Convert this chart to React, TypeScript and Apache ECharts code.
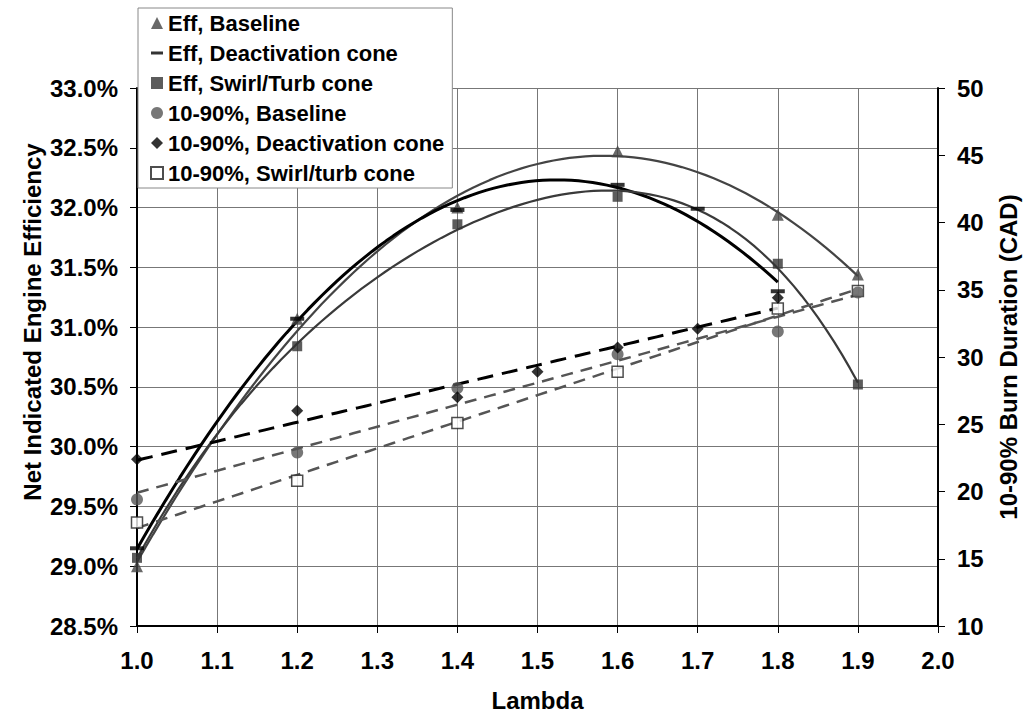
import React, { useEffect, useRef } from "react";
import * as echarts from "echarts";

// ---- data ----
const lambdaEffBaseline = [1.0, 1.2, 1.4, 1.6, 1.8, 1.9];
const effBaseline = [29.0, 31.07, 32.0, 32.47, 31.94, 31.44];

const lambdaEffDeact = [1.0, 1.2, 1.4, 1.6, 1.7, 1.8];
const effDeact = [29.15, 31.07, 31.98, 32.19, 31.99, 31.3];

const lambdaEffSwirl = [1.0, 1.2, 1.4, 1.6, 1.8, 1.9];
const effSwirl = [29.07, 30.84, 31.86, 32.09, 31.53, 30.52];

const lambdaBurnBaseline = [1.0, 1.2, 1.4, 1.6, 1.8, 1.9];
const burnBaseline = [19.4, 22.9, 27.7, 30.2, 31.9, 34.8];

const lambdaBurnDeact = [1.0, 1.2, 1.4, 1.5, 1.6, 1.7, 1.8];
const burnDeact = [22.4, 26.0, 27.0, 28.9, 30.7, 32.1, 34.4];

const lambdaBurnSwirl = [1.0, 1.2, 1.4, 1.6, 1.8, 1.9];
const burnSwirl = [17.7, 20.8, 25.1, 28.9, 33.6, 34.9];

const seriesNames = [
  "Eff, Baseline",
  "Eff, Deactivation cone",
  "Eff, Swirl/Turb cone",
  "10-90%, Baseline",
  "10-90%, Deactivation cone",
  "10-90%, Swirl/turb cone",
];

// polynomial order of each spreadsheet trendline
const trendOrders = [2, 2, 4, 1, 1, 1];

const xTicks = { min: 1.0, max: 2.0, step: 0.1 };
const yLeftTicks = { min: 28.5, max: 33.0, step: 0.5 };
const yRightTicks = { min: 10, max: 50, step: 5 };

// ---- least squares trendlines (as the spreadsheet trendlines) ----
function polyFit(xs: number[], ys: number[], deg: number): number[] {
  const n = deg + 1;
  const x0 = 1.45; // centre x for numerical stability
  const A: number[][] = [];
  for (let r = 0; r < n; r++) {
    A.push(new Array(n + 1).fill(0));
  }
  for (let i = 0; i < xs.length; i++) {
    const t = xs[i] - x0;
    for (let r = 0; r < n; r++) {
      for (let c = 0; c < n; c++) A[r][c] += Math.pow(t, r + c);
      A[r][n] += ys[i] * Math.pow(t, r);
    }
  }
  for (let p = 0; p < n; p++) {
    let best = p;
    for (let r = p + 1; r < n; r++) if (Math.abs(A[r][p]) > Math.abs(A[best][p])) best = r;
    [A[p], A[best]] = [A[best], A[p]];
    for (let r = 0; r < n; r++) {
      if (r === p) continue;
      const f = A[r][p] / A[p][p];
      for (let c = p; c <= n; c++) A[r][c] -= f * A[p][c];
    }
  }
  return A.map((row, i) => row[n] / row[i]);
}

function trend(xs: number[], ys: number[], deg: number): number[][] {
  const coef = polyFit(xs, ys, deg);
  const x0 = 1.45;
  const lo = Math.min(...xs);
  const hi = Math.max(...xs);
  const out: number[][] = [];
  const steps = 90;
  for (let i = 0; i <= steps; i++) {
    const x = lo + ((hi - lo) * i) / steps;
    let y = 0;
    for (let k = 0; k < coef.length; k++) y += coef[k] * Math.pow(x - x0, k);
    out.push([x, y]);
  }
  return out;
}

const pairs = (xs: number[], ys: number[]) => xs.map((x, i) => [x, ys[i]]);

const FONT = '"Liberation Sans", Arial, Helvetica, sans-serif';
const DASH_PATH = "path://M0,0H14V4H0Z";

export default function App() {
  const ref = useRef<HTMLDivElement>(null);

  useEffect(() => {
    if (!ref.current) return;
    const chart = echarts.init(ref.current, undefined, { renderer: "svg" });

    const trendBase = {
      type: "line",
      showSymbol: false,
      symbol: "none",
      silent: true,
      smooth: false,
      z: 2,
    };

    const option: any = {
      animation: false,
      backgroundColor: "#fff",
      textStyle: { fontFamily: FONT },
      grid: { left: 137, right: 85, top: 88, bottom: 90, containLabel: false },
      legend: {
        orient: "vertical",
        left: 138,
        top: 8,
        backgroundColor: "#fff",
        borderColor: "#888",
        borderWidth: 1,
        padding: [4, 8, 4, 12],
        itemGap: 8,
        itemWidth: 12,
        itemHeight: 12,
        selectedMode: false,
        textStyle: {
          fontFamily: FONT,
          fontWeight: "bold",
          fontSize: 22,
          lineHeight: 22,
          color: "#000",
        },
        data: [
          { name: seriesNames[0], icon: "triangle" },
          { name: seriesNames[1], icon: "path://M0,0H12V3H0Z" },
          { name: seriesNames[2], icon: "rect" },
          { name: seriesNames[3], icon: "circle" },
          { name: seriesNames[4], icon: "diamond" },
          { name: seriesNames[5], icon: "rect" },
        ],
      },
      xAxis: {
        type: "value",
        min: xTicks.min,
        max: xTicks.max,
        interval: xTicks.step,
        name: "Lambda",
        nameLocation: "middle",
        nameGap: 62,
        nameTextStyle: { fontFamily: FONT, fontWeight: "bold", fontSize: 24, color: "#000" },
        axisLine: { onZero: false, lineStyle: { color: "#000", width: 2 } },
        axisTick: { show: true, length: 7, lineStyle: { color: "#000", width: 1 } },
        axisLabel: {
          margin: 22,
          fontFamily: FONT,
          fontWeight: "bold",
          fontSize: 24,
          color: "#000",
          formatter: (v: number) => v.toFixed(1),
        },
        splitLine: { show: true, lineStyle: { color: "#777", width: 1 } },
      },
      yAxis: [
        {
          type: "value",
          position: "left",
          min: yLeftTicks.min,
          max: yLeftTicks.max,
          interval: yLeftTicks.step,
          axisLine: { show: true, lineStyle: { color: "#000", width: 2 } },
          axisTick: { show: true, length: 7, lineStyle: { color: "#000", width: 1 } },
          axisLabel: {
            margin: 19,
            fontFamily: FONT,
            fontWeight: "bold",
            fontSize: 24,
            color: "#000",
            formatter: (v: number) => v.toFixed(1) + "%",
          },
          splitLine: { show: true, lineStyle: { color: "#777", width: 1 } },
        },
        {
          type: "value",
          position: "right",
          min: yRightTicks.min,
          max: yRightTicks.max,
          interval: yRightTicks.step,
          name: "10-90% Burn Duration (CAD)",
          nameLocation: "middle",
          nameRotate: 90,
          nameGap: 58,
          nameTextStyle: { fontFamily: FONT, fontWeight: "bold", fontSize: 24, color: "#000" },
          axisLine: { show: true, lineStyle: { color: "#000", width: 2 } },
          axisTick: { show: true, length: 7, lineStyle: { color: "#000", width: 1 } },
          axisLabel: {
            margin: 19,
            fontFamily: FONT,
            fontWeight: "bold",
            fontSize: 24,
            color: "#000",
          },
          splitLine: { show: false },
        },
      ],
      graphic: [
        {
          type: "text",
          x: 32,
          y: 322,
          rotation: Math.PI / 2,
          z: 10,
          style: {
            text: "Net Indicated Engine Efficiency",
            font: 'bold 24px "Liberation Sans", Arial, sans-serif',
            fill: "#000",
            textAlign: "center",
            textVerticalAlign: "middle",
            align: "center",
            verticalAlign: "middle",
          },
        },
      ],
      series: [
        // trendlines
        {
          ...trendBase,
          name: "trend-eff-baseline",
          yAxisIndex: 0,
          data: trend(lambdaEffBaseline, effBaseline, trendOrders[0]),
          lineStyle: { color: "#444", width: 2.2 },
        },
        {
          ...trendBase,
          name: "trend-eff-deact",
          yAxisIndex: 0,
          data: trend(lambdaEffDeact, effDeact, trendOrders[1]),
          lineStyle: { color: "#000", width: 3 },
        },
        {
          ...trendBase,
          name: "trend-eff-swirl",
          yAxisIndex: 0,
          data: trend(lambdaEffSwirl, effSwirl, trendOrders[2]),
          lineStyle: { color: "#3a3a3a", width: 2.2 },
        },
        {
          ...trendBase,
          name: "trend-burn-baseline",
          yAxisIndex: 1,
          data: trend(lambdaBurnBaseline, burnBaseline, trendOrders[3]),
          lineStyle: { color: "#555", width: 2.5, type: [12, 8] },
        },
        {
          ...trendBase,
          name: "trend-burn-deact",
          yAxisIndex: 1,
          data: trend(lambdaBurnDeact, burnDeact, trendOrders[4]),
          lineStyle: { color: "#000", width: 3, type: [16, 9] },
        },
        {
          ...trendBase,
          name: "trend-burn-swirl",
          yAxisIndex: 1,
          data: trend(lambdaBurnSwirl, burnSwirl, trendOrders[5]),
          lineStyle: { color: "#555", width: 2.5, type: [12, 8] },
        },
        // markers
        {
          type: "scatter",
          name: seriesNames[0],
          yAxisIndex: 0,
          symbol: "triangle",
          symbolSize: 12,
          z: 5,
          itemStyle: { color: "#444" },
          data: pairs(lambdaEffBaseline, effBaseline),
        },
        {
          type: "scatter",
          name: seriesNames[1],
          yAxisIndex: 0,
          symbol: DASH_PATH,
          symbolSize: [14, 4],
          symbolKeepAspect: false,
          z: 6,
          itemStyle: { color: "#000" },
          data: pairs(lambdaEffDeact, effDeact),
        },
        {
          type: "scatter",
          name: seriesNames[2],
          yAxisIndex: 0,
          symbol: "rect",
          symbolSize: 10,
          z: 5,
          itemStyle: { color: "#333" },
          data: pairs(lambdaEffSwirl, effSwirl),
        },
        {
          type: "scatter",
          name: seriesNames[5],
          yAxisIndex: 1,
          symbol: "rect",
          symbolSize: 11,
          z: 5,
          itemStyle: { color: "#fff", borderColor: "#222", borderWidth: 1.5 },
          data: pairs(lambdaBurnSwirl, burnSwirl),
        },
        {
          type: "scatter",
          name: seriesNames[3],
          yAxisIndex: 1,
          symbol: "circle",
          symbolSize: 12,
          z: 6,
          itemStyle: { color: "#555" },
          data: pairs(lambdaBurnBaseline, burnBaseline),
        },
        {
          type: "scatter",
          name: seriesNames[4],
          yAxisIndex: 1,
          symbol: "diamond",
          symbolSize: 12,
          z: 7,
          itemStyle: { color: "#000" },
          data: pairs(lambdaBurnDeact, burnDeact),
        },
      ],
    };

    chart.setOption(option);
    return () => chart.dispose();
  }, []);

  return (
    <div
      ref={ref}
      style={{ position: "fixed", left: 0, top: 0, width: 1028, height: 717, background: "#fff" }}
    />
  );
}
